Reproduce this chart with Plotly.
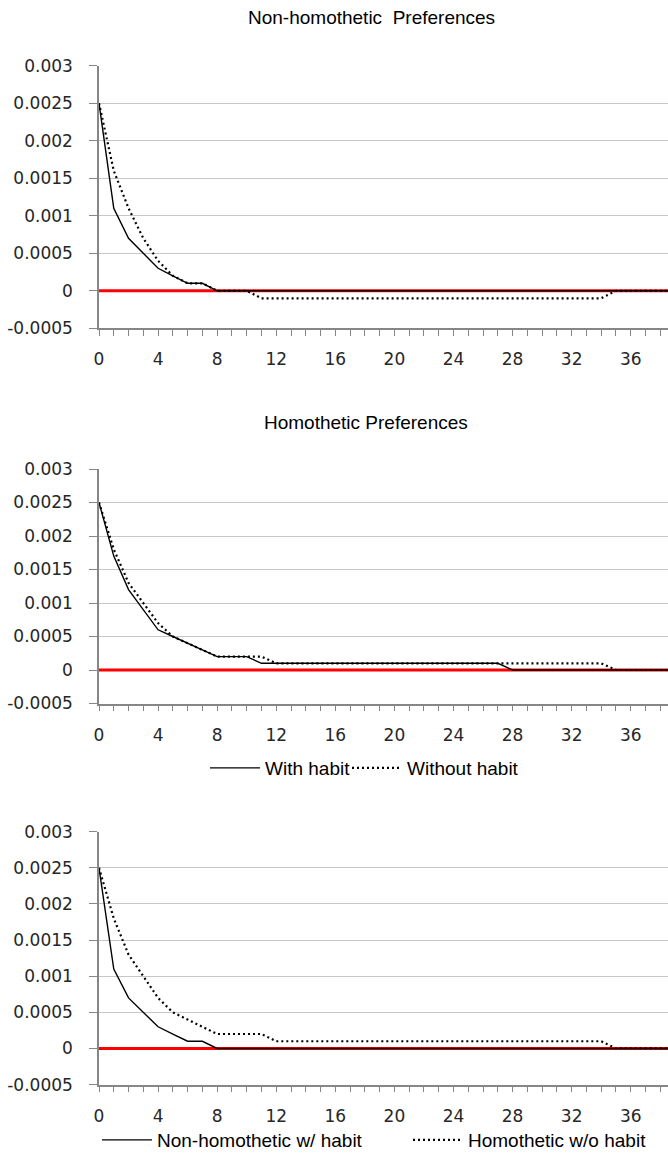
import plotly.graph_objects as go

# ---------------- data ----------------
periods = list(range(40))

nonhom_with_habit = [0.0025, 0.0011, 0.0007, 0.0005, 0.0003, 0.0002, 0.0001, 0.0001, 0, 0,
                     0, 0, 0, 0, 0, 0, 0, 0, 0, 0,
                     0, 0, 0, 0, 0, 0, 0, 0, 0, 0,
                     0, 0, 0, 0, 0, 0, 0, 0, 0, 0]
nonhom_without_habit = [0.0025, 0.0016, 0.0011, 0.0007, 0.0004, 0.0002, 0.0001, 0.0001, 0, 0,
                        0, -0.0001, -0.0001, -0.0001, -0.0001, -0.0001, -0.0001, -0.0001, -0.0001, -0.0001,
                        -0.0001, -0.0001, -0.0001, -0.0001, -0.0001, -0.0001, -0.0001, -0.0001, -0.0001, -0.0001,
                        -0.0001, -0.0001, -0.0001, -0.0001, -0.0001, 0, 0, 0, 0, 0]
hom_with_habit = [0.0025, 0.0017, 0.0012, 0.0009, 0.0006, 0.0005, 0.0004, 0.0003, 0.0002, 0.0002,
                  0.0002, 0.0001, 0.0001, 0.0001, 0.0001, 0.0001, 0.0001, 0.0001, 0.0001, 0.0001,
                  0.0001, 0.0001, 0.0001, 0.0001, 0.0001, 0.0001, 0.0001, 0.0001, 0, 0,
                  0, 0, 0, 0, 0, 0, 0, 0, 0, 0]
hom_without_habit = [0.0025, 0.0018, 0.0013, 0.0010, 0.0007, 0.0005, 0.0004, 0.0003, 0.0002, 0.0002,
                     0.0002, 0.0002, 0.0001, 0.0001, 0.0001, 0.0001, 0.0001, 0.0001, 0.0001, 0.0001,
                     0.0001, 0.0001, 0.0001, 0.0001, 0.0001, 0.0001, 0.0001, 0.0001, 0.0001, 0.0001,
                     0.0001, 0.0001, 0.0001, 0.0001, 0.0001, 0, 0, 0, 0, 0]
zero_line = [0, 0, 0, 0, 0, 0, 0, 0, 0, 0,
             0, 0, 0, 0, 0, 0, 0, 0, 0, 0,
             0, 0, 0, 0, 0, 0, 0, 0, 0, 0,
             0, 0, 0, 0, 0, 0, 0, 0, 0, 0]

y_tickvals = [-0.0005, 0, 0.0005, 0.001, 0.0015, 0.002, 0.0025, 0.003]
y_ticktext = ["-0.0005", "0", "0.0005", "0.001", "0.0015", "0.002", "0.0025", "0.003"]
x_tickvals = [0, 4, 8, 12, 16, 20, 24, 28, 32, 36]
x_ticktext = ["0", "4", "8", "12", "16", "20", "24", "28", "32", "36"]

titles = ["Non-homothetic  Preferences", "Homothetic Preferences"]
legend_names = ["With habit", "Without habit", "Non-homothetic w/ habit", "Homothetic w/o habit"]

# ---------------- layout geometry ----------------
W, H = 668, 1157
x_left_px = 99
px_per_unit = 14.77
x_max = (W - x_left_px) / px_per_unit
panels_px = [(65.7, 328.3), (469.0, 703.5), (831.7, 1084.6)]

tick_font = dict(family="DejaVu Sans, Verdana", size=17, color="#262626")
text_font = dict(family="Liberation Sans, Arial", size=19, color="#000000")
axis_col = "#868686"
grid_col = "#c6c6c6"

fig = go.Figure()

panel_series = [
    [(nonhom_with_habit, None, False, "legend"), (nonhom_without_habit, None, False, "legend")],
    [(hom_with_habit, legend_names[0], True, "legend"), (hom_without_habit, legend_names[1], True, "legend2")],
    [(nonhom_with_habit, legend_names[2], True, "legend3"), (hom_without_habit, legend_names[3], True, "legend4")],
]

for i, series in enumerate(panel_series):
    xa = "x" if i == 0 else f"x{i+1}"
    ya = "y" if i == 0 else f"y{i+1}"
    fig.add_trace(go.Scatter(x=periods, y=zero_line, mode="lines", xaxis=xa, yaxis=ya,
                             line=dict(color="#ff0000", width=3), showlegend=False, hoverinfo="skip"))
    (s1, n1, l1, lg1), (s2, n2, l2, lg2) = series
    fig.add_trace(go.Scatter(x=periods, y=s1, mode="lines", name=n1, showlegend=l1, legend=lg1,
                             xaxis=xa, yaxis=ya, line=dict(color="#000000", width=1.4)))
    fig.add_trace(go.Scatter(x=periods, y=s2, mode="lines", name=n2, showlegend=l2, legend=lg2,
                             xaxis=xa, yaxis=ya, line=dict(color="#000000", width=2.2, dash="2px,3px")))


def leg(line_start_px, y_px):
    return dict(orientation="h", x=(line_start_px - 10) / W, xanchor="left",
                y=1 - y_px / H, yanchor="middle", font=text_font,
                bgcolor="rgba(0,0,0,0)", itemwidth=50)


layout = dict(
    width=W, height=H,
    margin=dict(l=0, r=0, t=0, b=0, pad=0, autoexpand=False),
    paper_bgcolor="white", plot_bgcolor="white",
    showlegend=True,
    legend=leg(215, 768),
    legend2=leg(357, 768),
    legend3=leg(107, 1140),
    legend4=leg(418, 1140),
)

for i, (top, bot) in enumerate(panels_px):
    sx = "" if i == 0 else str(i + 1)
    layout["xaxis" + sx] = dict(
        domain=[x_left_px / W, 1.0], range=[0, x_max], anchor="y" + sx,
        tickmode="array", tickvals=x_tickvals, ticktext=x_ticktext,
        ticks="outside", ticklen=6, tickcolor=axis_col, tickwidth=1,
        minor=dict(dtick=1, tick0=0, ticks="outside", ticklen=6, tickcolor=axis_col, tickwidth=1, showgrid=False),
        showline=True, linecolor=axis_col, linewidth=1.5,
        showgrid=False, zeroline=False, tickfont=tick_font, ticklabelstandoff=9,
        automargin=False,
    )
    layout["yaxis" + sx] = dict(
        domain=[1 - bot / H, 1 - top / H], range=[-0.0005, 0.003], anchor="x" + sx,
        tickmode="array", tickvals=y_tickvals, ticktext=y_ticktext,
        ticks="outside", ticklen=8, tickcolor=axis_col, tickwidth=1,
        showline=True, linecolor=axis_col, linewidth=1.5,
        showgrid=True, gridcolor=grid_col, gridwidth=1.2, zeroline=False,
        tickfont=tick_font, ticklabelstandoff=13, automargin=False,
    )

fig.update_layout(**layout)

fig.add_annotation(text=titles[0], x=372 / W, y=1 - 18 / H, xref="paper", yref="paper",
                   showarrow=False, font=text_font, xanchor="center", yanchor="middle")
fig.add_annotation(text=titles[1], x=366 / W, y=1 - 422 / H, xref="paper", yref="paper",
                   showarrow=False, font=text_font, xanchor="center", yanchor="middle")

post = ("var gd=document.getElementById('{plot_id}');"
        "gd.style.position='fixed';gd.style.top='0px';gd.style.left='0px';"
        "document.body.style.margin='0';document.body.style.overflow='hidden';"
        "document.documentElement.style.overflow='hidden';")
fig.write_html("out.html", config={"displayModeBar": False}, post_script=post)
